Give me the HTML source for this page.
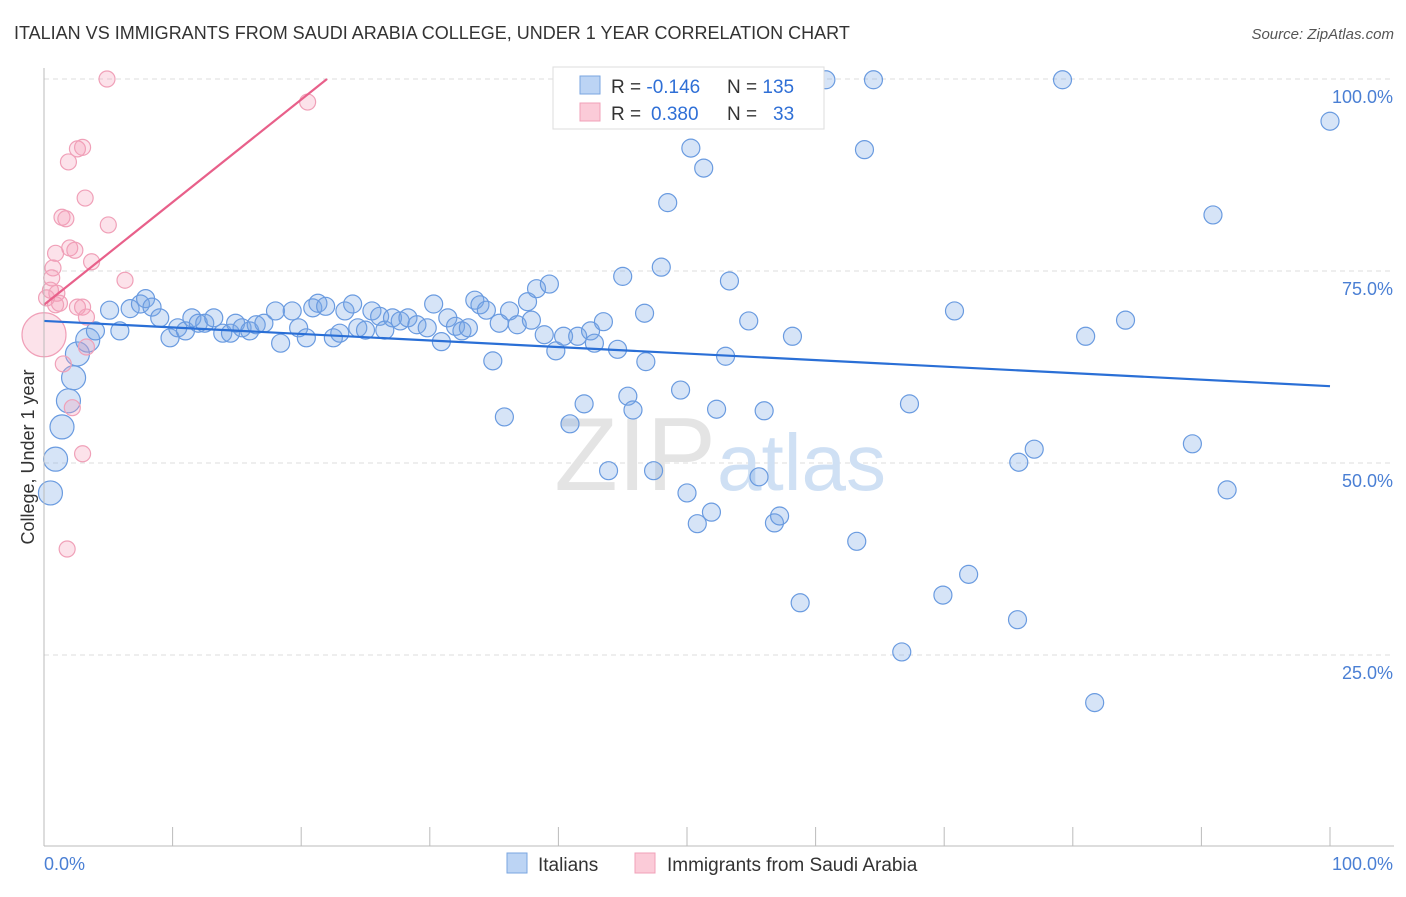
<!DOCTYPE html>
<html><head><meta charset="utf-8"><style>
body{margin:0;background:#fff;font-family:"Liberation Sans",sans-serif}
svg text{font-family:"Liberation Sans",sans-serif}
</style></head><body>
<svg width="1406" height="892" viewBox="0 0 1406 892" xmlns="http://www.w3.org/2000/svg">
<text x="14" y="39" font-size="18" fill="#333">ITALIAN VS IMMIGRANTS FROM SAUDI ARABIA COLLEGE, UNDER 1 YEAR CORRELATION CHART</text>
<text x="1394" y="39" font-size="15" fill="#555" font-style="italic" text-anchor="end">Source: ZipAtlas.com</text>
<g id="grid"></g>
<text x="716" y="490" font-size="104" fill="#e4e4e4" text-anchor="end" font-family="Liberation Serif">ZIP</text>
<text x="717" y="490" font-size="80" fill="#cfe0f4">atlas</text>
<g id="pts"></g>
<g id="lines"></g>
<line x1="44" y1="68" x2="44" y2="846" stroke="#bbb"/>
<line x1="44" y1="846" x2="1394" y2="846" stroke="#bbb"/>
<text x="44" y="870" font-size="18" fill="#4a7fd4">0.0%</text>
<text x="1393" y="870" font-size="18" fill="#4a7fd4" text-anchor="end">100.0%</text>
<text transform="translate(34,457) rotate(-90)" font-size="18" fill="#333" text-anchor="middle">College, Under 1 year</text>
<g>
<rect x="553" y="67" width="271" height="62" fill="#fff" stroke="#ddd"/>
<rect x="580" y="76" width="20" height="18" fill="#bcd4f4" stroke="#7aa6e0"/>
<rect x="580" y="103" width="20" height="18" fill="#fbcbd8" stroke="#f0a0b8"/>
<text x="611" y="93" font-size="19" fill="#333">R = <tspan fill="#2f6fd6">-0.146</tspan><tspan x="727">N = </tspan><tspan fill="#2f6fd6">135</tspan></text>
<text x="611" y="120" font-size="19" fill="#333">R = <tspan fill="#2f6fd6" x="651">0.380</tspan><tspan x="727">N = </tspan><tspan fill="#2f6fd6" x="773">33</tspan></text>
</g>
<rect x="507" y="853" width="20" height="20" fill="#bcd4f4" stroke="#7aa6e0"/>
<text x="538" y="871" font-size="19" fill="#333">Italians</text>
<rect x="635" y="853" width="20" height="20" fill="#fbcbd8" stroke="#f0a0b8"/>
<text x="667" y="871" font-size="19" fill="#333">Immigrants from Saudi Arabia</text>
</svg>
<script>
const yTicks=[100,75,50,25];
const yTickLabels=["100.0%","75.0%","50.0%","25.0%"];
const xTicks=[0,10,20,30,40,50,60,70,80,90,100];
const blueX=[0.5,0.9,1.4,1.9,2.3,2.6,3.4,4.0,5.1,5.9,6.7,7.5,7.9,8.4,9.0,9.8,10.4,11.0,11.5,12.0,12.5,13.2,13.9,14.5,14.9,15.4,16.0,16.5,17.1,18.0,18.4,19.3,19.8,20.4,20.9,21.3,21.9,22.5,23.0,23.4,24.0,24.4,25.0,25.5,26.1,26.5,27.1,27.7,28.3,29.0,29.8,30.3,30.9,31.4,32.0,32.5,33.0,33.5,33.9,34.4,34.9,35.4,35.8,36.2,36.8,37.6,37.9,38.3,38.9,39.3,39.8,40.4,40.9,41.5,42.0,42.5,42.8,43.5,43.9,44.6,45.0,45.4,45.8,46.7,46.8,47.4,48.0,48.5,49.5,50.0,50.3,50.8,51.3,51.9,52.3,53.0,53.3,54.6,54.8,55.6,56.0,56.4,56.8,57.2,58.2,58.8,60.8,63.2,63.8,64.5,66.7,67.3,69.9,70.8,71.9,75.7,75.8,77.0,79.2,81.0,81.7,84.1,89.3,90.9,92.0,100.0];
const blueY=[46.1,50.5,54.7,58.1,61.1,64.2,66.0,67.2,69.9,67.2,70.1,70.7,71.4,70.3,68.9,66.3,67.6,67.2,68.9,68.2,68.2,68.9,66.9,66.9,68.2,67.6,67.2,68.0,68.2,69.8,65.6,69.8,67.6,66.3,70.2,70.8,70.4,66.3,66.9,69.8,70.7,67.6,67.3,69.8,69.1,67.3,68.9,68.5,68.9,68.0,67.6,70.7,65.8,68.9,67.8,67.2,67.6,71.2,70.6,69.9,63.3,68.2,56.0,69.8,68.0,71.0,68.6,72.7,66.7,73.3,64.6,66.5,55.1,66.5,57.7,67.2,65.6,68.4,49.0,64.8,74.3,58.7,56.9,69.5,63.2,49.0,75.5,83.9,59.5,46.1,91.0,42.1,88.4,43.6,57.0,63.9,73.7,97.3,68.5,48.2,56.8,99.9,42.2,43.1,66.5,31.8,99.9,39.8,90.8,99.9,25.4,57.7,32.8,69.8,35.5,29.6,50.1,51.8,99.9,66.5,18.8,68.6,52.5,82.3,46.5,94.5];
const pinkX=[4.9,20.5,1.9,2.6,3.0,3.2,1.4,1.7,5.0,0.9,2.0,2.4,3.7,0.7,0.6,0.5,1.0,6.3,1.2,2.6,3.0,3.3,0,3.3,1.5,2.2,3.0,1.8,0.9,0.2];
const pinkY=[100,97.0,89.2,90.9,91.1,84.5,82.0,81.8,81.0,77.3,78.0,77.7,76.2,75.4,74.1,72.5,72.1,73.8,70.8,70.3,70.3,69.0,66.7,65.1,62.9,57.2,51.2,38.8,70.6,71.5];
const blueLine=[68.5,-0.085];
const pinkLine=[70.6,1.336];
const NS="http://www.w3.org/2000/svg";
const X=v=>44+v*12.86, Y=v=>847-v*7.68;
function mk(t,a,p){const e=document.createElementNS(NS,t);for(const k in a)e.setAttribute(k,a[k]);document.getElementById(p).appendChild(e);return e;}
yTicks.forEach((t,i)=>{
 const l=mk('line',{x1:44,x2:1394,y1:Y(t),y2:Y(t),stroke:'#ddd','stroke-dasharray':'5,4'},'grid');
 
 
 const tx=mk('text',{x:1393,y:Y(t)+24,'font-size':18,fill:'#4a7fd4','text-anchor':'end'},'grid');
 tx.textContent=yTickLabels[i];
 
 
});
xTicks.forEach(t=>{
 const l=mk('line',{x1:X(t),x2:X(t),y1:827,y2:846,stroke:'#bbb'},'grid');
 
 
});
blueX.forEach((x,i)=>{
 const c=mk('circle',{cx:X(x),cy:Y(blueY[i]),r:x<4?12:9,fill:'rgba(120,165,230,0.3)',stroke:'#6a9be0','stroke-width':1.2},'pts');
 
 
});
pinkX.forEach((x,i)=>{
 const c=mk('circle',{cx:X(x),cy:Y(pinkY[i]),r:x===0?22:8,fill:'rgba(245,160,185,0.3)',stroke:'#f0a0b8','stroke-width':1.2},'pts');
 
 
});
const bl=mk('line',{x1:X(0),y1:Y(blueLine[0]),x2:X(100),y2:Y(blueLine[0]+100*blueLine[1]),stroke:'#2a6fd6','stroke-width':2.2},'lines');


const xe=(100-pinkLine[0])/pinkLine[1];
const pl=mk('line',{x1:X(0),y1:Y(pinkLine[0]),x2:X(xe),y2:Y(100),stroke:'#e8608a','stroke-width':2.2},'lines');


</script>
</body></html>
